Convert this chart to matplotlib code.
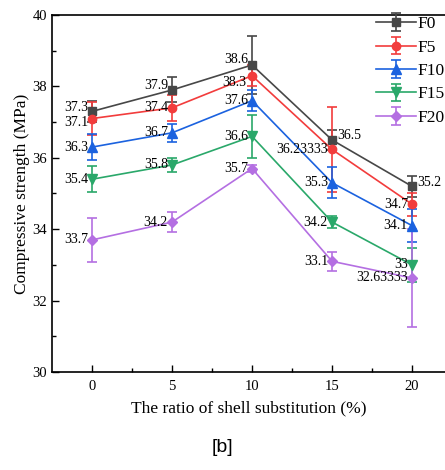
import matplotlib.pyplot as plt
import numpy as np

# shell substitution ratio (%)
ratio = [0, 5, 10, 15, 20]
names = ['F0', 'F5', 'F10', 'F15', 'F20']

f0 = [37.3, 37.9, 38.6, 36.5, 35.2]
f5 = [37.1, 37.4, 38.3, 36.23333, 34.7]
f10 = [36.3, 36.7, 37.6, 35.3, 34.1]
f15 = [35.4, 35.8, 36.6, 34.2, 33.0]
f20 = [33.7, 34.2, 35.7, 33.1, 32.63333]

f0_err = [0.3, 0.35, 0.8, 0.28, 0.3]
f5_err = [0.45, 0.37, 0.3, 1.2, 0.32]
f10_err = [0.36, 0.26, 0.3, 0.44, 0.46]
f15_err = [0.36, 0.2, 0.6, 0.17, 0.47]
f20_err = [0.61, 0.29, 0.1, 0.27, 1.37]

labels = [
    ['37.3', '37.9', '38.6', '36.5', '35.2'],
    ['37.1', '37.4', '38.3', '36.23333', '34.7'],
    ['36.3', '36.7', '37.6', '35.3', '34.1'],
    ['35.4', '35.8', '36.6', '34.2', '33'],
    ['33.7', '34.2', '35.7', '33.1', '32.63333'],
]

colors = ['#474747', '#f23c3c', '#1b62df', '#2aa86a', '#b46fe2']
markers = ['s', 'o', '^', 'v', 'D']
msizes = [6, 6, 7, 7, 5.5]

# label offsets (points) for each data label
offsets = [
    [(-3, 3), (-3, 3), (-3, 4), (4, 3), (4, 3)],
    [(-3, -3), (-3, 0), (-4, -5), (-3, 0), (-3, 0)],
    [(-3, 0), (-3, 0), (-3, 0), (-3, 0), (-3, 0)],
    [(-3, 0), (-3, 0), (-3, 0), (-3, 0), (-3, 0)],
    [(-3, 0), (-3, 0), (-3, 0), (-3, 0), (-3, 0)],
]

plt.rcParams['font.family'] = ['Liberation Serif', 'DejaVu Serif']

fig = plt.figure(figsize=(4.45, 4.70), dpi=100)
ax = fig.add_axes([0.117, 0.2085, 0.883, 0.7596])

series = [f0, f5, f10, f15, f20]
errs = [f0_err, f5_err, f10_err, f15_err, f20_err]
for i in range(len(series)):
    ax.errorbar(ratio, series[i], yerr=errs[i], color=colors[i], marker=markers[i],
                markersize=msizes[i], linewidth=1.2, elinewidth=1.2, capsize=3.5,
                capthick=1.2, label=names[i])
    for j in range(len(ratio)):
        dx, dy = offsets[i][j]
        ha = 'left' if dx > 0 else 'right'
        ax.annotate(labels[i][j], (ratio[j], series[i][j]), xytext=(dx, dy),
                    textcoords='offset points', ha=ha, va='center', fontsize=10)

ax.set_xlim(-2.5, 22.06)
ax.set_ylim(30, 40)
ax.set_xticks([0, 5, 10, 15, 20])
ax.set_xticks([2.5, 7.5, 12.5, 17.5], minor=True)
ax.set_yticks([30, 32, 34, 36, 38, 40])
ax.set_yticks([31, 33, 35, 37, 39], minor=True)
ax.tick_params(which='both', direction='in', labelsize=10.5)
ax.tick_params(axis='x', which='both', pad=6)
ax.tick_params(which='major', length=5, width=1)
ax.tick_params(which='minor', length=3, width=1)
ax.spines['right'].set_visible(False)
for s in ['left', 'top', 'bottom']:
    ax.spines[s].set_linewidth(1.2)

ax.set_xlabel('The ratio of shell substitution (%)', fontsize=12.5, labelpad=5)
ax.set_ylabel('Compressive strength (MPa)', fontsize=12.5, labelpad=2)

ax.legend(loc='upper left', bbox_to_anchor=(376 / 445, 1 - 16 / 470),
          bbox_transform=fig.transFigure, frameon=False, fontsize=12.5,
          handlelength=2.3, labelspacing=0.42, handletextpad=0.1, borderpad=0,
          borderaxespad=0)

fig.text(0.5, 1 - 447 / 470, '[b]', ha='center', va='center', fontsize=14,
         family='Liberation Sans')

fig.savefig('out.png', dpi=100)
